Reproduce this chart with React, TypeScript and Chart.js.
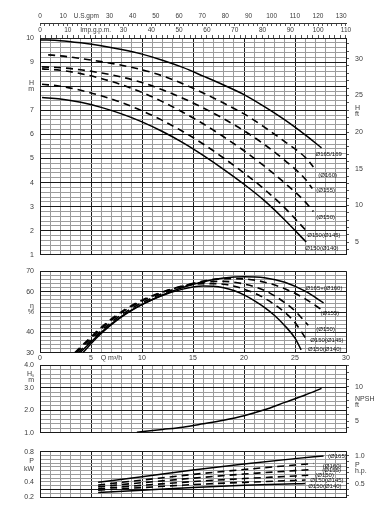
import React, { useEffect, useRef } from "react";
import { Chart, registerables } from "chart.js";

Chart.register(...registerables);

// ---------- unit conversions ----------
const US_GPM_PER_M3H = 4.40287;
const IMP_GPM_PER_M3H = 3.66667;
const FT_PER_M = 3.28084;
const KW_PER_HP = 0.7457;

// ---------- flow range (m³/h) ----------
const Q_MIN = 0;
const Q_MAX = 30;

// ---------- head curves [Q m³/h, H m] ----------
const head165: [number, number][] = [[0, 9.92], [2, 9.89], [4, 9.8], [6, 9.68], [8, 9.52], [10, 9.33], [12, 9.08], [14, 8.78], [16, 8.42], [18, 8.05], [20, 7.65], [22, 7.15], [24, 6.6], [26, 5.98], [27.6, 5.44]];
const head160: [number, number][] = [[0.8, 9.3], [2, 9.26], [4, 9.15], [6, 9.02], [8, 8.87], [10, 8.68], [12, 8.43], [14, 8.1], [16, 7.72], [18, 7.3], [20, 6.85], [22, 6.3], [24, 5.7], [26, 5.05], [26.8, 4.65]];
const head155: [number, number][] = [[0.2, 8.8], [2, 8.77], [4, 8.68], [6, 8.55], [8, 8.38], [10, 8.15], [12, 7.85], [14, 7.5], [16, 7.1], [18, 6.65], [20, 6.15], [22, 5.58], [24, 4.92], [26, 4.15], [26.7, 3.75]];
const head150: [number, number][] = [[0.2, 8.72], [2, 8.66], [4, 8.52], [6, 8.32], [8, 8.06], [10, 7.74], [12, 7.36], [14, 6.92], [16, 6.44], [18, 5.9], [20, 5.32], [22, 4.68], [24, 3.98], [26, 3.2], [26.8, 2.8]];
const head145: [number, number][] = [[0.2, 8.08], [2, 8.0], [4, 7.83], [6, 7.6], [8, 7.32], [10, 6.98], [12, 6.58], [14, 6.12], [16, 5.6], [18, 5.02], [20, 4.4], [22, 3.72], [24, 2.95], [26.1, 2.0]];
const head140: [number, number][] = [[0.2, 7.53], [2, 7.47], [4, 7.33], [6, 7.12], [8, 6.85], [10, 6.52], [12, 6.12], [14, 5.66], [16, 5.13], [18, 4.55], [20, 3.93], [22, 3.25], [24, 2.45], [26.1, 1.53]];
const headNames = ["Ø165/169", "(Ø160)", "(Ø155)", "(Ø150)", "Ø150(Ø145)", "Ø150(Ø140)"];

// ---------- efficiency curves [Q m³/h, η %] ----------
const eff165: [number, number][] = [[4.2, 30], [5, 34.5], [6, 39.5], [7, 43.8], [8, 47.6], [9, 50.8], [10, 53.6], [12, 58.3], [14, 62.0], [16, 64.8], [18, 66.6], [20, 67.3], [22, 66.8], [24, 64.6], [26, 60.2], [27.8, 54.5]];
const eff155: [number, number][] = [[3.7, 30], [5, 36], [6, 40.8], [7, 45], [8, 48.7], [9, 51.8], [10, 54.5], [12, 59], [14, 62.6], [16, 65.1], [18, 66.3], [20, 66.2], [22, 64.6], [24, 61.4], [26, 56.4], [27.5, 51.5]];
const eff150: [number, number][] = [[3.5, 30], [5, 37], [6, 41.8], [7, 46], [8, 49.7], [9, 52.8], [10, 55.4], [12, 59.6], [14, 62.8], [16, 64.6], [18, 65], [20, 63.7], [22, 60.6], [24, 54.6], [25, 50.5], [26.3, 43.5]];
const eff145: [number, number][] = [[3.4, 30], [5, 37.8], [6, 42.5], [7, 46.6], [8, 50.2], [9, 53.2], [10, 55.8], [12, 59.8], [14, 62.6], [16, 63.9], [18, 63.6], [20, 61.2], [22, 56.8], [24, 49.8], [25, 44.8], [26, 37.5]];
const eff140: [number, number][] = [[3.9, 30], [5, 35.3], [6, 40], [7, 44.2], [8, 47.9], [9, 51], [10, 53.7], [12, 58.1], [14, 61.2], [15, 62.2], [16, 62.7], [17, 62.6], [18, 61.9], [19, 60.5], [20, 58.4], [21, 55.6], [22, 52.3], [23, 48.3], [24, 43.3], [25, 37.2], [25.6, 31.5]];
const effNames = ["Ø165+(Ø160)", "(Ø155)", "(Ø150)", "Ø150(Ø145)", "Ø150(Ø140)"];

// ---------- NPSH curve [Q m³/h, m] ----------
const npshCurve: [number, number][] = [[9.5, 1.03], [12, 1.15], [14, 1.25], [16, 1.4], [18, 1.56], [20, 1.76], [22, 2.02], [24, 2.35], [26, 2.68], [27.6, 2.97]];

// ---------- power curves [Q m³/h, P kW] ----------
const pow165: [number, number][] = [[5.7, 0.395], [10, 0.47], [15, 0.56], [20, 0.64], [25, 0.71], [27.8, 0.745]];
const pow160: [number, number][] = [[5.7, 0.36], [10, 0.425], [15, 0.5], [20, 0.565], [25, 0.625], [26.8, 0.645]];
const pow155: [number, number][] = [[5.7, 0.335], [10, 0.39], [15, 0.45], [20, 0.505], [25, 0.55], [26.6, 0.565]];
const pow150: [number, number][] = [[5.7, 0.31], [10, 0.355], [15, 0.405], [20, 0.445], [25, 0.48], [26.3, 0.49]];
const pow145: [number, number][] = [[5.7, 0.29], [10, 0.325], [15, 0.365], [20, 0.395], [25, 0.42], [26, 0.425]];
const pow140: [number, number][] = [[5.7, 0.26], [10, 0.29], [15, 0.325], [20, 0.355], [25, 0.375], [26, 0.378]];
const powNames = ["(Ø165)", "(Ø160)", "(Ø155)", "(Ø150)", "Ø150(Ø145)", "Ø150(Ø140)"];

// ---------- styling (not data) ----------
const FAMILY = '"Liberation Sans", Arial, sans-serif';
const FONT = { family: FAMILY, size: 7 };
const TXT = "#3a3a3a";
const MAJOR = "#1c1c1c";
const MINOR = "#9c9c9c";
const CLEAR = "rgba(0,0,0,0)";
const DASH = [7, 5];
const solidDashed6 = [false, true, true, true, true, false];
const solidDashed5 = [false, true, true, true, false];

// pixel offsets of curve captions relative to curve end
const headLabelOffsets: [number, number][] = [[-6, 6], [5, 8], [4, 2], [3, 6], [1, 5], [-1, 6]];
const effLabelOffsets: [number, number][] = [[-18, -14], [0, 4], [8, 4.5], [5, 2.5], [7, 0]];
const powLabelOffsets: [number, number][] = [[4.5, 0], [9.5, 3], [11, 0.5], [7, 0], [5, 0.5], [3, 2.5]];

const range = (a: number, b: number, s: number) => {
  const out: number[] = [];
  const n = Math.round((b - a) / s);
  for (let i = 0; i <= n; i++) out.push(+(a + i * s).toFixed(4));
  return out;
};
const near = (v: number, s: number) => Math.abs(v / s - Math.round(v / s)) < 1e-6;
const setTicks = (vals: number[]) => (scale: any) => {
  scale.ticks = [...vals].sort((p, q) => p - q).map((v) => ({ value: v }));
};
const toXY = (arr: [number, number][]) => arr.map(([x, y]) => ({ x, y }));

function lineSet(arr: [number, number][], dashed: boolean) {
  return {
    data: toXY(arr),
    borderColor: "#000",
    borderWidth: dashed ? 1.6 : 1.5,
    borderDash: dashed ? DASH : [],
    pointRadius: 0,
    cubicInterpolationMode: "monotone" as const,
    fill: false,
  };
}

function flowAxis(showLabels: boolean, height: number) {
  return {
    type: "linear",
    position: "bottom",
    min: Q_MIN,
    max: Q_MAX,
    afterBuildTicks: setTicks(range(Q_MIN, Q_MAX, 1)),
    afterFit: (s: any) => {
      s.height = height;
    },
    ticks: {
      display: showLabels,
      autoSkip: false,
      maxRotation: 0,
      padding: 1,
      font: FONT,
      color: TXT,
      callback: (v: number) => (v % 5 === 0 ? String(v) : v === 7 ? "Q m³/h" : ""),
    },
    grid: {
      drawTicks: false,
      color: (c: any) => (near(c.tick.value, 5) ? MAJOR : MINOR),
      lineWidth: 1,
    },
    border: { display: true, color: MAJOR },
  };
}

function valueAxis(opts: {
  min: number;
  max: number;
  step: number;
  major: (v: number) => boolean;
  label: (v: number) => string | string[];
  extra: number[];
  lineHeight?: number;
}) {
  return {
    type: "linear",
    position: "left",
    min: opts.min,
    max: opts.max,
    afterBuildTicks: setTicks([...range(opts.min, opts.max, opts.step), ...opts.extra]),
    afterFit: (s: any) => {
      s.width = 40;
    },
    ticks: {
      autoSkip: false,
      padding: 6,
      font: { ...FONT, lineHeight: opts.lineHeight ?? 0.9 },
      color: TXT,
      callback: (v: number) => opts.label(v),
    },
    grid: {
      drawTicks: false,
      color: (c: any) => (opts.extra.includes(c.tick.value) ? CLEAR : opts.major(c.tick.value) ? MAJOR : MINOR),
      lineWidth: 1,
    },
    border: { display: true, color: MAJOR },
  };
}

function sideAxis(opts: {
  min: number;
  max: number;
  ticks: number[];
  extra: number[];
  label: (v: number) => string | string[];
  lineHeight?: number;
}) {
  return {
    type: "linear",
    position: "right",
    min: opts.min,
    max: opts.max,
    afterBuildTicks: setTicks([...opts.ticks, ...opts.extra]),
    afterFit: (s: any) => {
      s.width = 39;
    },
    ticks: {
      autoSkip: false,
      padding: 6,
      font: { ...FONT, lineHeight: opts.lineHeight ?? 0.9 },
      color: TXT,
      callback: (v: number) => opts.label(v),
    },
    grid: {
      drawOnChartArea: false,
      drawTicks: true,
      tickLength: 3,
      tickColor: (c: any) => (opts.extra.includes(c.tick.value) ? CLEAR : "#555"),
    },
    border: { display: true, color: MAJOR },
  };
}

function captionPlugin(names: string[], offsets: [number, number][]) {
  return {
    id: "captions",
    afterDatasetsDraw(chart: any) {
      const { ctx, scales } = chart;
      ctx.save();
      ctx.font = `6px ${FAMILY}`;
      ctx.fillStyle = "#111";
      ctx.textAlign = "left";
      ctx.textBaseline = "middle";
      names.forEach((t, i) => {
        const d = chart.data.datasets[i].data;
        const last = d[d.length - 1];
        ctx.fillText(
          t,
          scales.x.getPixelForValue(last.x) + offsets[i][0],
          scales.y.getPixelForValue(last.y) + offsets[i][1]
        );
      });
      ctx.restore();
    },
  };
}

const baseOptions = (padding: any) => ({
  responsive: false,
  animation: false as const,
  events: [] as any[],
  layout: { padding },
  plugins: { legend: { display: false }, tooltip: { enabled: false } },
  elements: { point: { radius: 0 } },
});

function headConfig(): any {
  const sets = [head165, head160, head155, head150, head145, head140];
  return {
    type: "line",
    data: { datasets: sets.map((s, i) => lineSet(s, solidDashed6[i])) },
    options: {
      ...baseOptions({ top: 0, bottom: 0, left: 0, right: 0 }),
      scales: {
        x: flowAxis(false, 6),
        us: {
          type: "linear",
          position: "top",
          weight: 2,
          min: Q_MIN * US_GPM_PER_M3H,
          max: Q_MAX * US_GPM_PER_M3H,
          afterBuildTicks: setTicks(range(0, 132, 2)),
          afterFit: (s: any) => {
            s.height = 23;
          },
          ticks: {
            autoSkip: false,
            maxRotation: 0,
            padding: 6,
            font: { family: FAMILY, size: 6.5 },
            color: TXT,
            callback: (v: number) => (v % 10 === 0 ? (v === 20 ? "U.S.gpm" : String(v)) : ""),
          },
          grid: { drawOnChartArea: false, drawTicks: true, tickLength: -3, tickColor: "#555" },
          border: { display: true, color: "#333" },
        },
        imp: {
          type: "linear",
          position: "top",
          weight: 1,
          min: Q_MIN * IMP_GPM_PER_M3H,
          max: Q_MAX * IMP_GPM_PER_M3H,
          afterBuildTicks: setTicks(range(0, 110, 2)),
          afterFit: (s: any) => {
            s.height = 15;
          },
          ticks: {
            autoSkip: false,
            maxRotation: 0,
            padding: 1,
            font: { family: FAMILY, size: 6.5 },
            color: TXT,
            callback: (v: number) => (v % 10 === 0 ? (v === 20 ? "Imp.g.p.m." : String(v)) : ""),
          },
          grid: { drawOnChartArea: false, drawTicks: true, tickLength: 3, tickColor: "#555" },
          border: { display: true, color: MAJOR },
        },
        y: valueAxis({
          min: 1,
          max: 10,
          step: 0.2,
          major: (v) => near(v, 1),
          extra: [],
          label: (v) => (near(v, 1) ? (Math.round(v) === 8 ? ["H", "m"] : String(Math.round(v))) : ""),
        }),
        ft: sideAxis({
          min: 1 * FT_PER_M,
          max: 10 * FT_PER_M,
          ticks: range(4, 32, 1),
          extra: [22.9],
          label: (v) => (v === 22.9 ? ["H", "ft"] : v % 5 === 0 ? String(v) : ""),
        }),
      },
    },
    plugins: [captionPlugin(headNames, headLabelOffsets)],
  };
}

function effConfig(): any {
  const sets = [eff165, eff155, eff150, eff145, eff140];
  return {
    type: "line",
    data: { datasets: sets.map((s, i) => lineSet(s, solidDashed5[i])) },
    options: {
      ...baseOptions({ top: 6, bottom: 0, left: 0, right: 39 }),
      scales: {
        x: flowAxis(true, 9),
        y: valueAxis({
          min: 30,
          max: 70,
          step: 2,
          major: (v) => near(v, 10),
          extra: [51.5],
          label: (v) => (v === 51.5 ? ["η", "%"] : v === 70 || v === 60 || v === 40 || v === 30 ? String(v) : ""),
        }),
      },
    },
    plugins: [captionPlugin(effNames, effLabelOffsets)],
  };
}

function npshConfig(): any {
  return {
    type: "line",
    data: { datasets: [lineSet(npshCurve, false)] },
    options: {
      ...baseOptions({ top: 9, bottom: 0, left: 0, right: 0 }),
      scales: {
        x: flowAxis(false, 3),
        y: valueAxis({
          min: 1,
          max: 4,
          step: 0.2,
          major: (v) => near(v, 1),
          extra: [3.46],
          label: (v) => (v === 3.46 ? ["Hₛ", "m"] : near(v, 1) ? v.toFixed(1) : ""),
        }),
        ft: sideAxis({
          min: 1 * FT_PER_M,
          max: 4 * FT_PER_M,
          ticks: range(4, 13, 1),
          extra: [7.74],
          lineHeight: 0.8,
          label: (v) => (v === 7.74 ? ["NPSH", "ft"] : v === 5 || v === 10 ? String(v) : ""),
        }),
      },
    },
  };
}

function powerConfig(): any {
  const sets = [pow165, pow160, pow155, pow150, pow145, pow140];
  return {
    type: "line",
    data: { datasets: sets.map((s, i) => lineSet(s, solidDashed6[i])) },
    options: {
      ...baseOptions({ top: 8, bottom: 0, left: 0, right: 0 }),
      scales: {
        x: flowAxis(false, 14),
        y: valueAxis({
          min: 0.2,
          max: 0.8,
          step: 0.05,
          major: (v) => Math.abs(v - 0.3) < 1e-6 || Math.abs(v - 0.8) < 1e-6 || Math.abs(v - 0.2) < 1e-6,
          extra: [0.62],
          lineHeight: 1.1,
          label: (v) =>
            v === 0.62 ? ["P", "kW"] : Math.abs(v - 0.8) < 1e-6 || Math.abs(v - 0.4) < 1e-6 || Math.abs(v - 0.2) < 1e-6 ? v.toFixed(1) : "",
        }),
        hp: sideAxis({
          min: 0.2 / KW_PER_HP,
          max: 0.8 / KW_PER_HP,
          ticks: range(0.3, 1.0, 0.1),
          extra: [0.782],
          lineHeight: 0.85,
          label: (v) => (v === 0.782 ? ["P", "h.p."] : Math.abs(v - 1) < 1e-6 || Math.abs(v - 0.5) < 1e-6 ? v.toFixed(1) : ""),
        }),
      },
    },
    plugins: [captionPlugin(powNames, powLabelOffsets)],
  };
}

export default function App() {
  const c1 = useRef<HTMLCanvasElement>(null);
  const c2 = useRef<HTMLCanvasElement>(null);
  const c3 = useRef<HTMLCanvasElement>(null);
  const c4 = useRef<HTMLCanvasElement>(null);

  useEffect(() => {
    Chart.defaults.font.family = FAMILY;
    const charts = [
      new Chart(c1.current!, headConfig()),
      new Chart(c2.current!, effConfig()),
      new Chart(c3.current!, npshConfig()),
      new Chart(c4.current!, powerConfig()),
    ];
    return () => charts.forEach((c) => c.destroy());
  }, []);

  const abs = (top: number, h: number): React.CSSProperties => ({
    position: "absolute",
    left: 0,
    top,
    width: 385,
    height: h,
  });

  return (
    <div style={{ position: "absolute", left: 0, top: 0, width: 385, height: 511, background: "#fff", overflow: "hidden" }}>
      <canvas ref={c1} width={385} height={264} style={abs(0, 264)} />
      <canvas ref={c2} width={385} height={100} style={abs(262, 100)} />
      <canvas ref={c3} width={385} height={86} style={abs(356, 86)} />
      <canvas ref={c4} width={385} height={69} style={abs(442, 69)} />
    </div>
  );
}
